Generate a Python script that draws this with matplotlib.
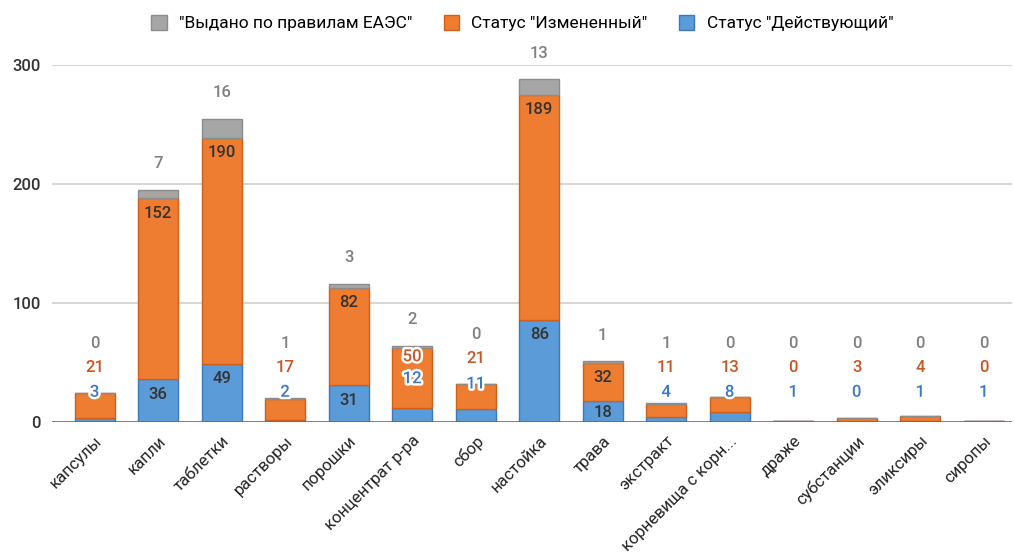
import numpy as np
import matplotlib.pyplot as plt
import matplotlib.patheffects as pe
from matplotlib.patches import Patch

plt.rcParams['font.family'] = ['Roboto', 'DejaVu Sans']

categories = ['капсулы', 'капли', 'таблетки', 'растворы', 'порошки',
              'концентрат р-ра', 'сбор', 'настойка', 'трава', 'экстракт',
              'корневища с корн...', 'драже', 'субстанции', 'эликсиры', 'сиропы']
active = [3, 36, 49, 2, 31, 12, 11, 86, 18, 4, 8, 1, 0, 1, 1]
changed = [21, 152, 190, 17, 82, 50, 21, 189, 32, 11, 13, 0, 3, 4, 0]
eaeu = [0, 7, 16, 1, 3, 2, 0, 13, 1, 1, 0, 0, 0, 0, 0]

series_names = ['"Выдано по правилам ЕАЭС"', 'Статус "Измененный"', 'Статус "Действующий"']

BLUE, BLUE_EDGE, BLUE_TXT = '#5a9bd8', '#3a78bf', '#3d78c2'
ORANGE, ORANGE_EDGE, ORANGE_TXT = '#ee7d31', '#cf5f1a', '#c4572a'
GRAY, GRAY_EDGE, GRAY_TXT = '#a6a6a6', '#8c8c8c', '#808080'
DARK = '#333333'

fig = plt.figure(figsize=(10.14, 5.56), dpi=100)
ax = fig.add_axes([0.0513, 0.241, 0.947, 0.642])

x = np.arange(len(categories))
a = np.array(active, dtype=float)
c = np.array(changed, dtype=float)
g = np.array(eaeu, dtype=float)
w = 0.63

ax.bar(x, a, w, color=BLUE, edgecolor=BLUE_EDGE, linewidth=1, zorder=3)
ax.bar(x, c, w, bottom=a, color=ORANGE, edgecolor=ORANGE_EDGE, linewidth=1, zorder=3)
ax.bar(x, g, w, bottom=a + c, color=GRAY, edgecolor=GRAY_EDGE, linewidth=1, zorder=3)

ax.set_ylim(0, 300)
ax.set_xlim(-0.67, 14.45)

# data units per pixel
u = 300 / (0.642 * 556)
px_per_unit = 1 / u


def label(xi, y, txt, color, halo=False):
    t = ax.text(xi, y, txt, ha='center', va='center', fontsize=12,
                fontweight='medium', color=color, zorder=5, clip_on=False)
    if halo:
        t.set_path_effects([pe.withStroke(linewidth=3.5, foreground='white')])


for i in x:
    b, o, gg = a[i], c[i], g[i]
    tot = b + o + gg
    if b * px_per_unit >= 20:
        # both segments tall enough: labels sit inside the bar
        label(i, max(b - 15 * u, 10 * u), f'{int(b)}', DARK)
        label(i, max(b + o - 15 * u, b + 10 * u), f'{int(o)}', DARK)
        label(i, tot + 26 * u, f'{int(gg)}', GRAY_TXT)
    elif o * px_per_unit >= 45:
        yb = b + 29 * u
        label(i, yb, f'{int(b)}', BLUE_TXT, halo=True)
        label(i, yb + 22 * u, f'{int(o)}', ORANGE_TXT, halo=True)
        label(i, tot + 26 * u, f'{int(gg)}', GRAY_TXT)
    else:
        # short bar: stack all three labels above it
        yb = max(tot, 25)
        label(i, yb, f'{int(b)}', BLUE_TXT, halo=True)
        label(i, yb + 25 * u, f'{int(o)}', ORANGE_TXT)
        label(i, yb + 49 * u, f'{int(gg)}', GRAY_TXT)

ax.set_yticks([0, 100, 200, 300])
ax.tick_params(axis='y', length=0, labelsize=12, labelcolor=DARK, pad=8)
for t in ax.get_yticklabels():
    t.set_fontweight('medium')
ax.yaxis.grid(True, color='#d0d0d0', linewidth=1.2, zorder=0)
ax.axhline(0, color='#666666', linewidth=1.8, zorder=4)
for s in ax.spines.values():
    s.set_visible(False)

ax.set_xticks(x)
ax.set_xticklabels(categories, rotation=45, ha='right', rotation_mode='anchor',
                   fontsize=12, color='#222222')
ax.tick_params(axis='x', length=0, pad=8)

handles = [Patch(facecolor=GRAY, edgecolor=GRAY_EDGE),
           Patch(facecolor=ORANGE, edgecolor=ORANGE_EDGE),
           Patch(facecolor=BLUE, edgecolor=BLUE_EDGE)]
fig.legend(handles, series_names, loc='center', bbox_to_anchor=(0.515, 0.958),
           ncol=3, frameon=False, fontsize=12.5, handlelength=0.9,
           handleheight=0.9, handletextpad=0.7, columnspacing=1.8)

fig.savefig('out.png', dpi=100)
